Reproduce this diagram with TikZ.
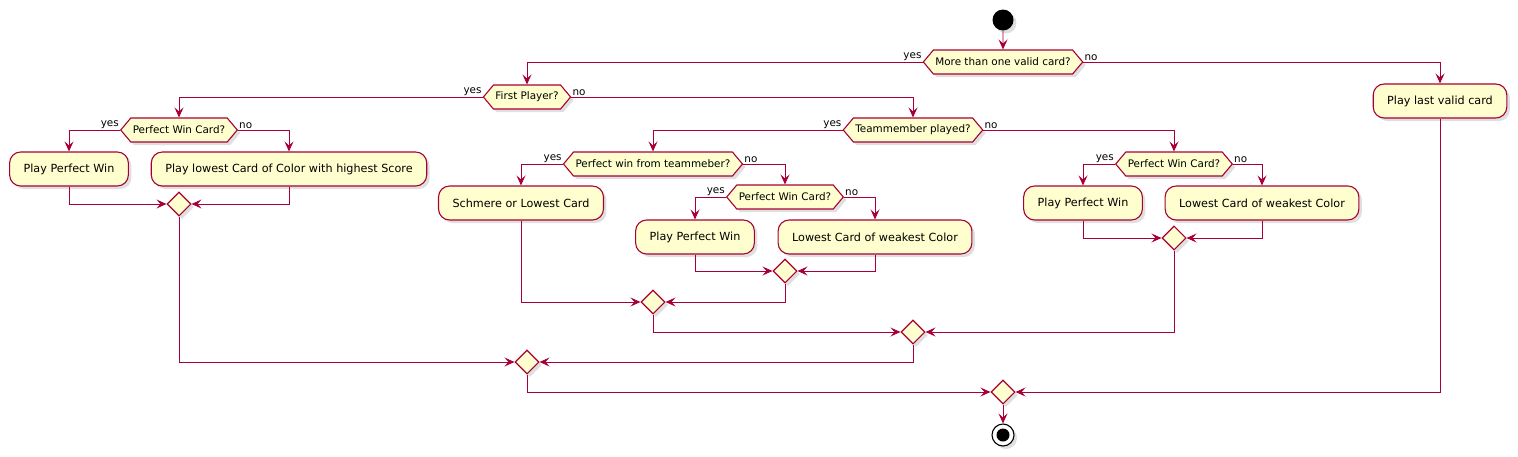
\documentclass[tikz,border=0pt]{standalone}
\usepackage{fontspec}
\setmainfont{DejaVu Sans}
\usetikzlibrary{arrows.meta,shapes.geometric,shapes.symbols,shadows}
\definecolor{UMLRed}{HTML}{A80036}
\definecolor{UMLFill}{HTML}{FEFECE}
\tikzset{
    shade/.style = {drop shadow={opacity=0.25, shadow xshift=3pt, shadow yshift=-3pt}},
    act/.style = {draw=UMLRed, fill=UMLFill, line width=1.1pt, rounded corners=11pt,
        minimum height=34pt, inner xsep=14pt, font=\fontsize{11.2}{13}\selectfont, shade},
    cond/.style = {draw=UMLRed, fill=UMLFill, line width=1.1pt, signal, signal to=west and east,
        signal pointer angle=100, minimum height=24pt, inner xsep=2pt, inner ysep=0pt,
        font=\fontsize{10.4}{12}\selectfont, shade},
    merge/.style = {draw=UMLRed, fill=UMLFill, line width=1.1pt, diamond, minimum size=24pt,
        inner sep=0pt, shade},
    flow/.style = {draw=UMLRed, line width=0.9pt, -{Stealth[length=10pt, width=9pt, inset=4pt]}},
    lbl/.style = {inner sep=1pt, font=\fontsize{10.4}{12}\selectfont}
}

\begin{document}
\begin{tikzpicture}[x=1pt, y=-1pt]
        \useasboundingbox (0,0) rectangle (1518,456);
        \node [circle, fill=black, minimum size=21pt, inner sep=0pt, shade] (start) at (1003,20) {};
        \node [cond] (cnd1) at (1003,62) {More than one valid card?};
        \node [act] (last) at (1440,101) {Play last valid card};
        \node [cond] (cnd2) at (527,97) {First Player?};
        \node [cond] (cnd3) at (179,130) {Perfect Win Card?};
        \node [act] (win1) at (69,169) {Play Perfect Win};
        \node [act] (high) at (289,169) {Play lowest Card of Color with highest Score};
        \node [cond] (cnd4) at (913,130) {Teammember played?};
        \node [cond] (cnd5) at (653,164) {Perfect win from teammeber?};
        \node [act] (schm) at (521,203) {Schmere or Lowest Card};
        \node [cond] (cnd6) at (785,197) {Perfect Win Card?};
        \node [act] (win2) at (695,237) {Play Perfect Win};
        \node [act] (weak1) at (875,237) {Lowest Card of weakest Color};
        \node [cond] (cnd7) at (1174,164) {Perfect Win Card?};
        \node [act] (win3) at (1083,203) {Play Perfect Win};
        \node [act] (weak2) at (1262,203) {Lowest Card of weakest Color};
        \foreach \n/\x/\y in {mrg1/179/204, mrg3/785/271, mrg4/653/302, mrg5/1174/238,
                              mrg6/913/332, mrg7/527/362, mrg8/1003/392}{
            \node [merge] (\n) at (\x,\y) {};
        }
        \node [circle, draw=black, fill=white, line width=1.1pt, minimum size=22pt, inner sep=0pt, shade] (stop) at (1003,435) {};
        \node [circle, fill=black, minimum size=13pt, inner sep=0pt] (stopdot) at (stop) {};
        \foreach \d in {1,2,...,7}{
            \node [lbl, anchor=south east] (yes\d) at (cnd\d.west) {yes};
            \node [lbl, anchor=south west] (no\d) at (cnd\d.east) {no};
        }
        \draw [flow] (start) -- (cnd1);
        \draw [flow] (cnd1.west) -| (cnd2.north);
        \draw [flow] (cnd1.east) -| (last.north);
        \draw [flow] (cnd2.west) -| (cnd3.north);
        \draw [flow] (cnd2.east) -| (cnd4.north);
        \draw [flow] (cnd3.west) -| (win1.north);
        \draw [flow] (cnd3.east) -| (high.north);
        \draw [flow] (win1.south) |- (mrg1.west);
        \draw [flow] (high.south) |- (mrg1.east);
        \draw [flow] (cnd4.west) -| (cnd5.north);
        \draw [flow] (cnd4.east) -| (cnd7.north);
        \draw [flow] (cnd5.west) -| (schm.north);
        \draw [flow] (cnd5.east) -| (cnd6.north);
        \draw [flow] (cnd6.west) -| (win2.north);
        \draw [flow] (cnd6.east) -| (weak1.north);
        \draw [flow] (win2.south) |- (mrg3.west);
        \draw [flow] (weak1.south) |- (mrg3.east);
        \draw [flow] (schm.south) |- (mrg4.west);
        \draw [flow] (mrg3.south) |- (mrg4.east);
        \draw [flow] (cnd7.west) -| (win3.north);
        \draw [flow] (cnd7.east) -| (weak2.north);
        \draw [flow] (win3.south) |- (mrg5.west);
        \draw [flow] (weak2.south) |- (mrg5.east);
        \draw [flow] (mrg4.south) |- (mrg6.west);
        \draw [flow] (mrg5.south) |- (mrg6.east);
        \draw [flow] (mrg1.south) |- (mrg7.west);
        \draw [flow] (mrg6.south) |- (mrg7.east);
        \draw [flow] (mrg7.south) |- (mrg8.west);
        \draw [flow] (last.south) |- (mrg8.east);
        \draw [flow] (mrg8) -- (stop);
\end{tikzpicture}
\end{document}
